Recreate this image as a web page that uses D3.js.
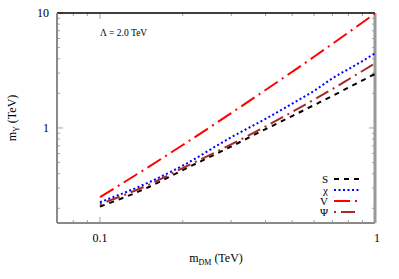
<!DOCTYPE html>
<html><head><meta charset="utf-8">
<script src="https://cdn.jsdelivr.net/npm/d3@7"></script>
<style>body{margin:0;background:#fff}svg{display:block}</style>
</head><body>
<script>
const mDM   = [0.1, 0.15, 0.2, 0.3, 0.4, 0.5, 0.6, 0.7, 0.8, 0.9, 1.0];
const ySeriesS   = [0.207, 0.305, 0.43, 0.69, 0.976, 1.27, 1.58, 1.90, 2.24, 2.59, 2.95];
const ySeriesChi = [0.226, 0.335, 0.47, 0.83, 1.20, 1.63, 2.10, 2.70, 3.25, 3.82, 4.46];
const ySeriesV   = [0.25, 0.457, 0.711, 1.345, 2.14, 3.08, 4.16, 5.39, 6.76, 8.26, 9.9];
const ySeriesPsi = [0.217, 0.32, 0.448, 0.719, 1.03, 1.38, 1.76, 2.18, 2.64, 3.13, 3.65];
const seriesNames = ["S", "χ", "V", "Ψ"];
const xTickLabels = ["0.1", "1"];
const yTickLabels = ["1", "10"];

const W = 399, H = 279;
const L = 57, R = 375, T = 13, B = 223;
const svg = d3.select("body").append("svg").attr("width", W).attr("height", H);
const x = d3.scaleLog().domain([0.0698, 1]).range([L, R]);
const y = d3.scaleLog().domain([0.149, 10]).range([B, T]);

const serif = "'Liberation Serif','DejaVu Serif',serif";
const grey = "#8a8a8a";

// minor ticks
const xMinor = [0.08, 0.09, 0.2, 0.3, 0.4, 0.5, 0.6, 0.7, 0.8, 0.9];
const yMinor = [0.2, 0.3, 0.4, 0.5, 0.6, 0.7, 0.8, 0.9, 2, 3, 4, 5, 6, 7, 8, 9];
const tk = svg.append("g").attr("stroke", grey).attr("stroke-width", 0.8);
[...xMinor, 0.1, 1].forEach(v => {
  const len = (v === 0.1 || v === 1) ? 6 : 3;
  tk.append("line").attr("x1", x(v)).attr("x2", x(v)).attr("y1", B).attr("y2", B - len);
  tk.append("line").attr("x1", x(v)).attr("x2", x(v)).attr("y1", T).attr("y2", T + len);
});
[...yMinor, 1, 10].forEach(v => {
  const len = (v === 1 || v === 10) ? 6 : 3;
  tk.append("line").attr("y1", y(v)).attr("y2", y(v)).attr("x1", L).attr("x2", L + len);
  tk.append("line").attr("y1", y(v)).attr("y2", y(v)).attr("x1", R).attr("x2", R - len);
});

// frame
svg.append("line").attr("x1", L).attr("x2", R).attr("y1", T).attr("y2", T).attr("stroke", "#000").attr("stroke-width", 1.3);
svg.append("line").attr("x1", L).attr("x2", L).attr("y1", T).attr("y2", B).attr("stroke", grey).attr("stroke-width", 2);
svg.append("line").attr("x1", L).attr("x2", R).attr("y1", B).attr("y2", B).attr("stroke", grey).attr("stroke-width", 2);
svg.append("line").attr("x1", R).attr("x2", R).attr("y1", T).attr("y2", B).attr("stroke", "#999").attr("stroke-width", 3);

// tick labels
[0.1, 1].forEach((v, i) => {
  svg.append("text").attr("x", x(v) + (v === 1 ? 2 : 0)).attr("y", 242).attr("text-anchor", "middle")
    .attr("font-family", serif).attr("font-size", 12).text(xTickLabels[i]);
});
[1, 10].forEach((v, i) => {
  svg.append("text").attr("x", 49).attr("y", y(v) + 4).attr("text-anchor", "end")
    .attr("font-family", serif).attr("font-size", 12).text(yTickLabels[i]);
});

// axis titles
const xt = svg.append("text").attr("x", 216).attr("y", 262).attr("text-anchor", "middle")
  .attr("font-family", serif).attr("font-size", 12);
xt.append("tspan").text("m");
xt.append("tspan").attr("font-size", 8).attr("dy", 3).text("DM");
xt.append("tspan").attr("dy", -3).text(" (TeV)");
const yt = svg.append("text").attr("transform", "translate(16,118) rotate(-90)").attr("text-anchor", "middle")
  .attr("font-family", serif).attr("font-size", 12);
yt.append("tspan").text("m");
yt.append("tspan").attr("font-size", 8).attr("dy", 3).text("Y");
yt.append("tspan").attr("dy", -3).text(" (TeV)");

svg.append("text").attr("x", 100).attr("y", 36).attr("font-family", serif).attr("font-size", 9.5)
  .text("Λ = 2.0 TeV");

// curves
const series = [
  {name: seriesNames[0], vals: ySeriesS,   color: "#000000", dash: "5,5"},
  {name: seriesNames[1], vals: ySeriesChi, color: "#0000ff", dash: "2,2.5"},
  {name: seriesNames[2], vals: ySeriesV,   color: "#ff0000", dash: "16,5,2,5"},
  {name: seriesNames[3], vals: ySeriesPsi, color: "#a52a2a", dash: "2,5,14,5"}
];
svg.append("clipPath").attr("id", "c").append("rect").attr("x", L).attr("y", T).attr("width", R - L).attr("height", B - T);
const line = d3.line().x(d => x(d[0])).y(d => y(d[1])).curve(d3.curveMonotoneX);
const g = svg.append("g").attr("clip-path", "url(#c)");
series.forEach(s => {
  g.append("path").datum(mDM.map((m, i) => [m, s.vals[i]])).attr("d", line)
    .attr("fill", "none").attr("stroke", s.color).attr("stroke-width", 2).attr("stroke-dasharray", s.dash);
});

// legend
const legY = [179, 190, 201, 212];
series.forEach((s, i) => {
  svg.append("text").attr("x", 328).attr("y", legY[i] + 4).attr("text-anchor", "end")
    .attr("font-family", serif).attr("font-size", 11).text(s.name);
  svg.append("line").attr("x1", 334).attr("x2", 359).attr("y1", legY[i]).attr("y2", legY[i])
    .attr("stroke", s.color).attr("stroke-width", 2).attr("stroke-dasharray", s.dash);
});
</script>
</body></html>
